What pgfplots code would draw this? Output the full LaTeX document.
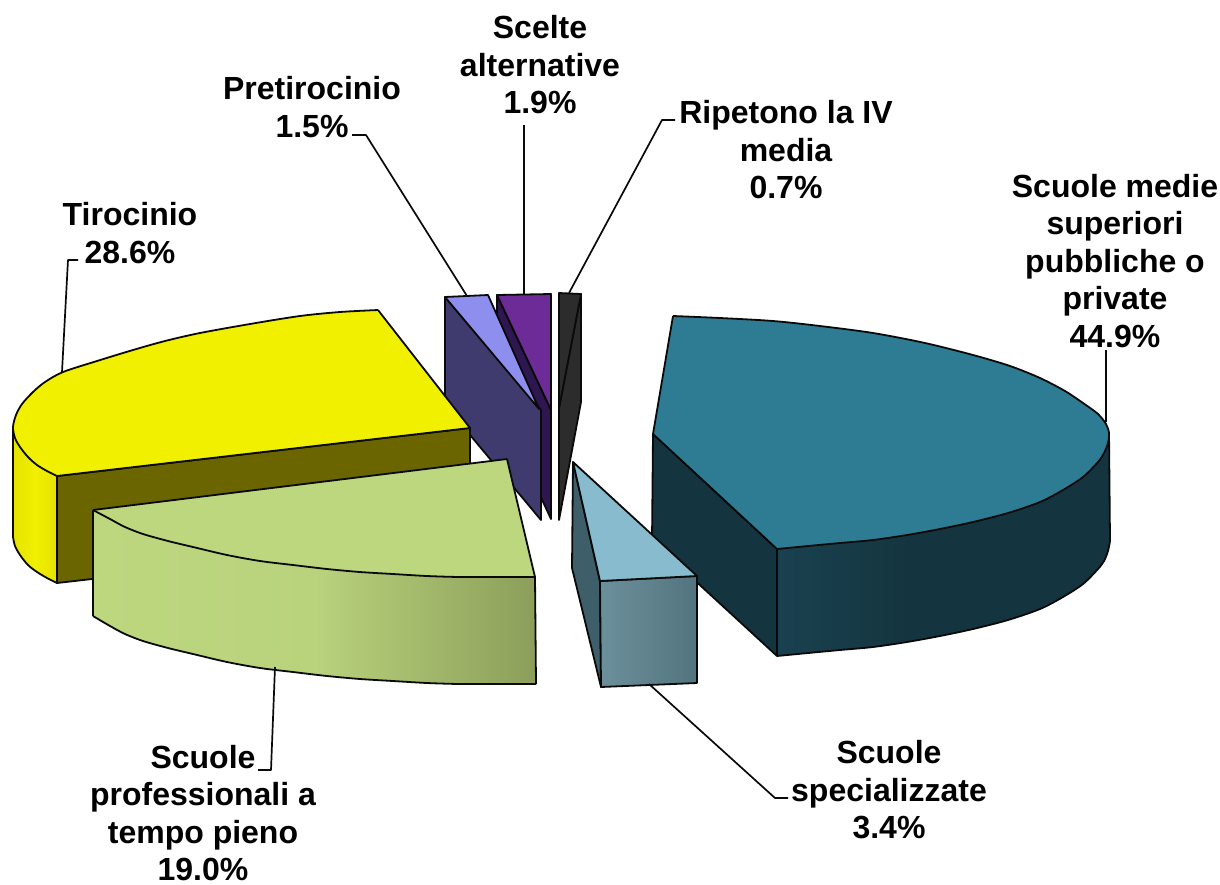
\documentclass[border=0pt]{standalone}
\usepackage{pgfplots}
\pgfplotsset{compat=1.18}
\usepackage{fontspec}
\setmainfont{Liberation Sans}
\definecolor{bluetop}{HTML}{2E7C94}
\definecolor{bluewall}{HTML}{14353F}
\definecolor{blueA}{HTML}{1A4150}
\definecolor{ltop}{HTML}{87BBCD}
\definecolor{lwall}{HTML}{3E5F69}
\definecolor{lA}{HTML}{6C909B}
\definecolor{lB}{HTML}{52747F}
\definecolor{ytop}{HTML}{F0F000}
\definecolor{ywall}{HTML}{6B6500}
\definecolor{yA}{HTML}{E6E200}
\definecolor{gtop}{HTML}{BDD77F}
\definecolor{gB}{HTML}{8C9E5A}
\definecolor{lil}{HTML}{8E8EEE}
\definecolor{lilw}{HTML}{3F3B6E}
\definecolor{pur}{HTML}{6C2B96}
\definecolor{purw}{HTML}{2E1650}
\definecolor{blk}{HTML}{2C2C2C}
\definecolor{edge}{HTML}{0A0A0A}
\pgfdeclarehorizontalshading{greenside}{100bp}{color(0bp)=(gtop); color(25bp)=(gtop); color(50bp)=(gtop!92!gB); color(75bp)=(gB); color(100bp)=(gB)}
\pgfdeclarehorizontalshading{blueside}{100bp}{color(0bp)=(blueA); color(25bp)=(blueA); color(45bp)=(bluewall); color(75bp)=(bluewall); color(100bp)=(bluewall)}
\pgfdeclarehorizontalshading{lightside}{100bp}{color(0bp)=(lA); color(25bp)=(lA); color(75bp)=(lB); color(100bp)=(lB)}
\pgfdeclarehorizontalshading{yellowside}{100bp}{color(0bp)=(yA); color(25bp)=(yA); color(50bp)=(ytop); color(75bp)=(yA); color(100bp)=(yA)}
\begin{document}
\begin{tikzpicture}
\begin{axis}[
  scale only axis, width=1220pt, height=884pt,
  xmin=0, xmax=1220, ymin=0, ymax=884, y dir=reverse,
  hide axis, clip=false,
  every axis plot/.append style={no markers, line width=1.8pt, draw=edge, line join=round},
]
% invisible frame that keeps the page at the reference's extent
\addplot[draw=none] coordinates {(0,0) (1220,884)};
% leader lines
\addplot[line width=1.7pt] coordinates {(1106,350) (1106,422)};
\addplot[line width=1.7pt] coordinates {(675,120) (662,120) (569,293)};
\addplot[line width=1.7pt] coordinates {(524,125) (524,295)};
\addplot[line width=1.7pt] coordinates {(352,135) (366,135) (467,296)};
\addplot[line width=1.7pt] coordinates {(78,260) (68,260) (62,372)};
% purple
\addplot[fill=purw] coordinates {(497,295) (551,410) (551,519) (497,403)} -- cycle;
\addplot[fill=pur] coordinates {(497,295) (551,294) (551,410)} -- cycle;
% lilac
\addplot[fill=lilw] coordinates {(445,297) (541,410) (541,520) (445,405)} -- cycle;
\addplot[fill=lil] coordinates {(445,297) (488,295) (539,409)} -- cycle;
% black
\addplot[fill=blk] coordinates {(581,294) (581,402) (559,520) (559,408)} -- cycle;
\addplot[fill=blk] coordinates {(559,293) (581,294) (559,408)} -- cycle;
% yellow
\addplot[fill=ywall] coordinates {(57,476) (470,428) (470,536) (57,583)} -- cycle;
\addplot[draw=none, shading=yellowside] coordinates {(13,427) (15,438) (20,447) (28,457) (37,465) (47,471) (57,476) (57,583) (47,578) (37,572) (28,565) (20,555) (15,546) (13,537)} -- cycle;
\addplot[] coordinates {(13,427) (13,537)};
\addplot[smooth] coordinates {(13,537) (15,546) (20,555) (28,565) (37,572) (47,578) (57,583)};
\addplot[draw=none, fill=ytop] coordinates {(470,428) (378,310) (340,312) (300,316) (250,324) (200,333) (165,341) (133,350) (97,361) (63,372) (45,382) (33,392) (22,404) (16,415) (13,427) (15,438) (20,447) (28,457) (37,465) (47,471) (57,476)} -- cycle;
\addplot[] coordinates {(57,476) (470,428) (378,310)};
\addplot[smooth] coordinates {(378,310) (340,312) (300,316) (250,324) (200,333) (165,341) (133,350) (97,361) (63,372) (45,382) (33,392) (22,404) (16,415) (13,427) (15,438) (20,447) (28,457) (37,465) (47,471) (57,476)};
\addplot[] coordinates {(57,476) (57,583)};
% green
\addplot[draw=none, shading=greenside] coordinates {(93,510) (110,519) (125,527) (143,534) (168,541) (193,547) (227,555) (260,561) (293,565) (327,569) (360,572) (393,574) (427,576) (460,577) (498,577) (535,577) (536,684) (498,684) (460,684) (427,683) (393,681) (360,679) (327,676) (293,672) (260,668) (227,662) (193,654) (168,648) (143,641) (125,634) (110,626) (93,616)} -- cycle;
\addplot[] coordinates {(93,510) (93,616)};
\addplot[] coordinates {(535,577) (536,684)};
\addplot[smooth] coordinates {(93,616) (110,626) (125,634) (143,641) (168,648) (193,654) (227,662) (260,668) (293,672) (327,676) (360,679) (393,681) (427,683) (460,684) (498,684) (536,684)};
\addplot[draw=none, fill=gtop] coordinates {(93,510) (507,459) (535,577) (498,577) (460,577) (427,576) (393,574) (360,572) (327,569) (293,565) (260,561) (227,555) (193,547) (168,541) (143,534) (125,527) (110,519)} -- cycle;
\addplot[] coordinates {(93,510) (507,459) (535,577)};
\addplot[smooth] coordinates {(535,577) (498,577) (460,577) (427,576) (393,574) (360,572) (327,569) (293,565) (260,561) (227,555) (193,547) (168,541) (143,534) (125,527) (110,519) (93,510)};
% blue
\addplot[fill=bluewall] coordinates {(653,434) (777,549) (777,656) (652,541)} -- cycle;
\addplot[draw=none, shading=blueside] coordinates {(777,549) (808,546) (840,543) (873,540) (907,535) (940,529) (973,522) (1008,513) (1040,502) (1063,490) (1083,477) (1098,462) (1104,453) (1108,443) (1109,433) (1110,541) (1108,551) (1104,561) (1098,569) (1083,584) (1063,597) (1040,609) (1008,620) (973,629) (940,636) (907,642) (873,647) (840,650) (808,653) (777,656)} -- cycle;
\addplot[] coordinates {(1109,433) (1110,541)};
\addplot[] coordinates {(777,549) (777,656)};
\addplot[smooth] coordinates {(1110,541) (1108,551) (1104,561) (1098,569) (1083,584) (1063,597) (1040,609) (1008,620) (973,629) (940,636) (907,642) (873,647) (840,650) (808,653) (777,656)};
\addplot[draw=none, fill=bluetop] coordinates {(653,434) (673,316) (720,318) (773,321) (820,326) (873,333) (925,343) (973,355) (1010,366) (1040,378) (1065,391) (1083,403) (1098,414) (1106,424) (1109,433) (1108,443) (1104,453) (1098,462) (1083,477) (1063,490) (1040,502) (1008,513) (973,522) (940,529) (907,535) (873,540) (840,543) (808,546) (777,549)} -- cycle;
\addplot[] coordinates {(777,549) (653,434) (673,316)};
\addplot[smooth] coordinates {(673,316) (720,318) (773,321) (820,326) (873,333) (925,343) (973,355) (1010,366) (1040,378) (1065,391) (1083,403) (1098,414) (1106,424) (1109,433) (1108,443) (1104,453) (1098,462) (1083,477) (1063,490) (1040,502) (1008,513) (973,522) (940,529) (907,535) (873,540) (840,543) (808,546) (777,549)};
% light blue
\addplot[fill=lwall] coordinates {(573,462) (600,581) (601,687) (572,568)} -- cycle;
\addplot[shading=lightside] coordinates {(600,581) (697,576) (697,683) (601,687)} -- cycle;
\addplot[fill=ltop] coordinates {(573,462) (697,576) (600,581)} -- cycle;
% lower leaders
\addplot[line width=1.7pt] coordinates {(275,667) (271,770) (258,770)};
\addplot[line width=1.7pt] coordinates {(649,684) (775,798) (788,798)};
% labels
\tikzset{lab/.style={font=\fontsize{32}{37.5}\selectfont\bfseries, align=center, inner sep=0pt, text=black}}
\node[lab] at (axis cs:540,65) {Scelte\\alternative\\1.9\%};
\node[lab] at (axis cs:312,107) {Pretirocinio\\1.5\%};
\node[lab] at (axis cs:786,150) {Ripetono la IV\\media\\0.7\%};
\node[lab] at (axis cs:1115,261) {Scuole medie\\superiori\\pubbliche o\\private\\44.9\%};
\node[lab] at (axis cs:130,233) {Tirocinio\\28.6\%};
\node[lab] at (axis cs:203,813) {Scuole\\professionali a\\tempo pieno\\19.0\%};
\node[lab] at (axis cs:889,790) {Scuole\\specializzate\\3.4\%};
\end{axis}
\end{tikzpicture}
\end{document}
